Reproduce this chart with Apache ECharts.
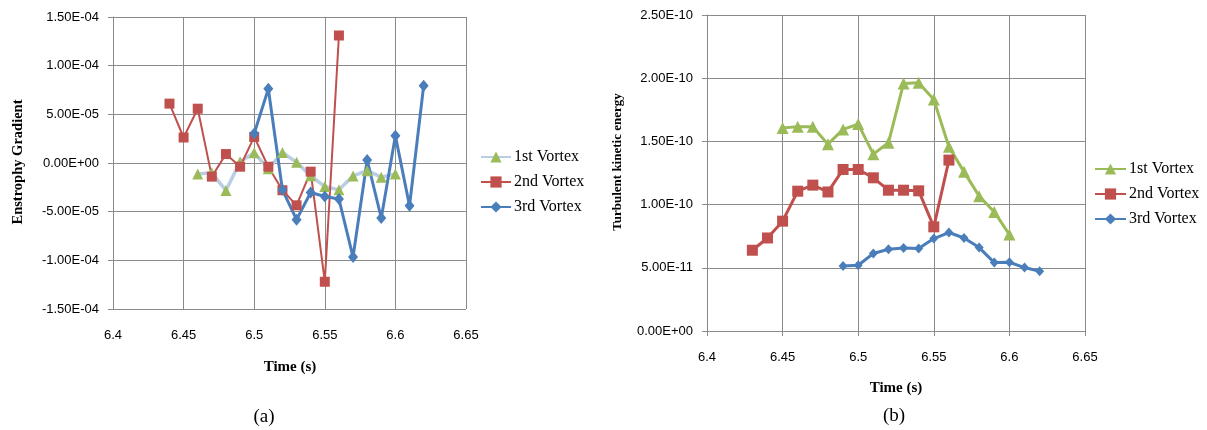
<!DOCTYPE html>
<html><head><meta charset="utf-8">
<script src="https://cdn.jsdelivr.net/npm/echarts@6/dist/echarts.min.js"></script>
<style>
html,body{margin:0;padding:0;background:#fff;width:1207px;height:430px;overflow:hidden}
#a{position:absolute;left:0;top:0;width:600px;height:430px}
#b{position:absolute;left:600px;top:0;width:607px;height:430px}
</style></head><body>
<div id="a"></div><div id="b"></div>
<script>
// ---- Data (a): Enstrophy Gradient ----
const entTime1 = [6.46,6.47,6.48,6.49,6.50,6.51,6.52,6.53,6.54,6.55,6.56,6.57,6.58,6.59,6.60];
const entVal1  = [-1.12e-5,-1.0e-5,-2.83e-5,1.3e-6,1.05e-5,-6e-6,1.09e-5,0.7e-6,-1.3e-5,-2.42e-5,-2.76e-5,-1.33e-5,-7.9e-6,-1.46e-5,-1.12e-5];
const entTime2 = [6.44,6.45,6.46,6.47,6.48,6.49,6.50,6.51,6.52,6.53,6.54,6.55,6.56];
const entVal2  = [6.1e-5,2.62e-5,5.58e-5,-1.4e-5,9.2e-6,-3.8e-6,2.68e-5,-3.8e-6,-2.8e-5,-4.35e-5,-8.9e-6,-1.22e-4,1.31e-4];
const entTime3 = [6.50,6.51,6.52,6.53,6.54,6.55,6.56,6.57,6.58,6.59,6.60,6.61,6.62];
const entVal3  = [3.03e-5,7.62e-5,-2.76e-5,-5.82e-5,-3.03e-5,-3.44e-5,-3.7e-5,-9.66e-5,3.1e-6,-5.65e-5,2.79e-5,-4.39e-5,7.93e-5];
// ---- Data (b): Turbulent kinetic energy ----
const tkeTime1 = [6.45,6.46,6.47,6.48,6.49,6.50,6.51,6.52,6.53,6.54,6.55,6.56,6.57,6.58,6.59,6.60];
const tkeVal1  = [1.607e-10,1.615e-10,1.615e-10,1.478e-10,1.595e-10,1.637e-10,1.399e-10,1.489e-10,1.959e-10,1.964e-10,1.832e-10,1.457e-10,1.259e-10,1.067e-10,9.42e-11,7.63e-11];
const tkeTime2 = [6.43,6.44,6.45,6.46,6.47,6.48,6.49,6.50,6.51,6.52,6.53,6.54,6.55,6.56];
const tkeVal2  = [6.39e-11,7.36e-11,8.69e-11,1.106e-10,1.154e-10,1.1e-10,1.278e-10,1.278e-10,1.212e-10,1.114e-10,1.114e-10,1.109e-10,8.24e-11,1.352e-10];
const tkeTime3 = [6.49,6.50,6.51,6.52,6.53,6.54,6.55,6.56,6.57,6.58,6.59,6.60,6.61,6.62];
const tkeVal3  = [5.15e-11,5.2e-11,6.13e-11,6.47e-11,6.57e-11,6.52e-11,7.31e-11,7.79e-11,7.36e-11,6.6e-11,5.41e-11,5.44e-11,5.02e-11,4.73e-11];
const seriesNames = ['1st Vortex','2nd Vortex','3rd Vortex'];

const GREEN='#9bbb59', RED='#c0504d', BLUE='#4a7ebb', LBLUE='#b9cde5', GRID='#8a8a8a';
const zip=(t,v)=>t.map((x,i)=>[x,v[i]]);
function sci(v){
  if (Math.abs(v) < 1e-20) return '0.00E+00';
  const s = v.toExponential(2); const p = s.split('e');
  const sign = p[1][0]; const d = p[1].slice(1).padStart(2,'0');
  return p[0] + 'E' + sign + d;
}
const labelFont = {fontFamily:'Liberation Sans', fontSize:13, color:'#000'};
function xAxis(){
  return {type:'value', min:6.4, max:6.65, interval:0.05,
    axisLine:{show:true,lineStyle:{color:GRID}}, axisTick:{show:true,length:5,lineStyle:{color:GRID}},
    splitLine:{show:true,lineStyle:{color:GRID,width:1}},
    axisLabel:Object.assign({margin:20, formatter:v=>String(+v.toFixed(2))},labelFont)};
}
function yAxis(min,max,iv){
  return {type:'value', min:min, max:max, interval:iv,
    axisLine:{show:true,lineStyle:{color:GRID}}, axisTick:{show:true,length:5,lineStyle:{color:GRID}},
    splitLine:{show:true,lineStyle:{color:GRID,width:1}},
    axisLabel:Object.assign({margin:14, formatter:sci},labelFont)};
}
const serif='Liberation Serif';
function txt(x,y,s,size,bold,rot){
  return {type:'text', x:x, y:y, rotation:rot||0,
    style:{text:s, font:(bold?'bold ':'')+size+'px "'+serif+'"', fill:'#000', textAlign:'center', textVerticalAlign:'middle'}};
}

// ---- Chart (a) ----
const ca = echarts.init(document.getElementById('a'), null, {renderer:'canvas'});
ca.setOption({
  animation:false,
  grid:{left:113, top:17, width:353, height:292},
  xAxis:xAxis(), yAxis:yAxis(-1.5e-4,1.5e-4,5e-5),
  legend:{orient:'vertical', left:475, top:144, itemWidth:30, itemHeight:14, itemGap:9,
    textStyle:{fontFamily:serif, fontSize:16, color:'#000', padding:[0,0,0,-2]}, data:seriesNames},
  series:[
    {name:seriesNames[0], type:'line', data:zip(entTime1,entVal1), symbol:'triangle', symbolSize:11,
     lineStyle:{color:LBLUE,width:3.5}, itemStyle:{color:GREEN}},
    {name:seriesNames[1], type:'line', data:zip(entTime2,entVal2), symbol:'rect', symbolSize:10,
     lineStyle:{color:RED,width:2}, itemStyle:{color:RED}},
    {name:seriesNames[2], type:'line', data:zip(entTime3,entVal3), symbol:'diamond', symbolSize:[10,12],
     lineStyle:{color:BLUE,width:3}, itemStyle:{color:BLUE}}
  ],
  graphic:[
    txt(18,162,'Enstrophy Gradient',14.5,true,Math.PI/2),
    txt(290,367,'Time (s)',15,true),
    txt(264,417,'(a)',19,false)
  ]
});

// ---- Chart (b) ----
const cb = echarts.init(document.getElementById('b'), null, {renderer:'canvas'});
cb.setOption({
  animation:false,
  grid:{left:107, top:15, width:378, height:316},
  xAxis:xAxis(), yAxis:yAxis(0,2.5e-10,5e-11),
  legend:{orient:'vertical', left:489, top:156, itemWidth:31, itemHeight:14, itemGap:9,
    textStyle:{fontFamily:serif, fontSize:16, color:'#000', padding:[0,0,0,-2]}, data:seriesNames},
  series:[
    {name:seriesNames[0], type:'line', data:zip(tkeTime1,tkeVal1), symbol:'triangle', symbolSize:12,
     lineStyle:{color:GREEN,width:3}, itemStyle:{color:GREEN}},
    {name:seriesNames[1], type:'line', data:zip(tkeTime2,tkeVal2), symbol:'rect', symbolSize:11,
     lineStyle:{color:RED,width:3}, itemStyle:{color:RED}},
    {name:seriesNames[2], type:'line', data:zip(tkeTime3,tkeVal3), symbol:'diamond', symbolSize:[9,10],
     lineStyle:{color:BLUE,width:3}, itemStyle:{color:BLUE}}
  ],
  graphic:[
    txt(18,162,'Turbulent kinetic energy',13,true,Math.PI/2),
    txt(296,388,'Time (s)',15,true),
    txt(294,416,'(b)',19,false)
  ]
});
</script>
</body></html>
